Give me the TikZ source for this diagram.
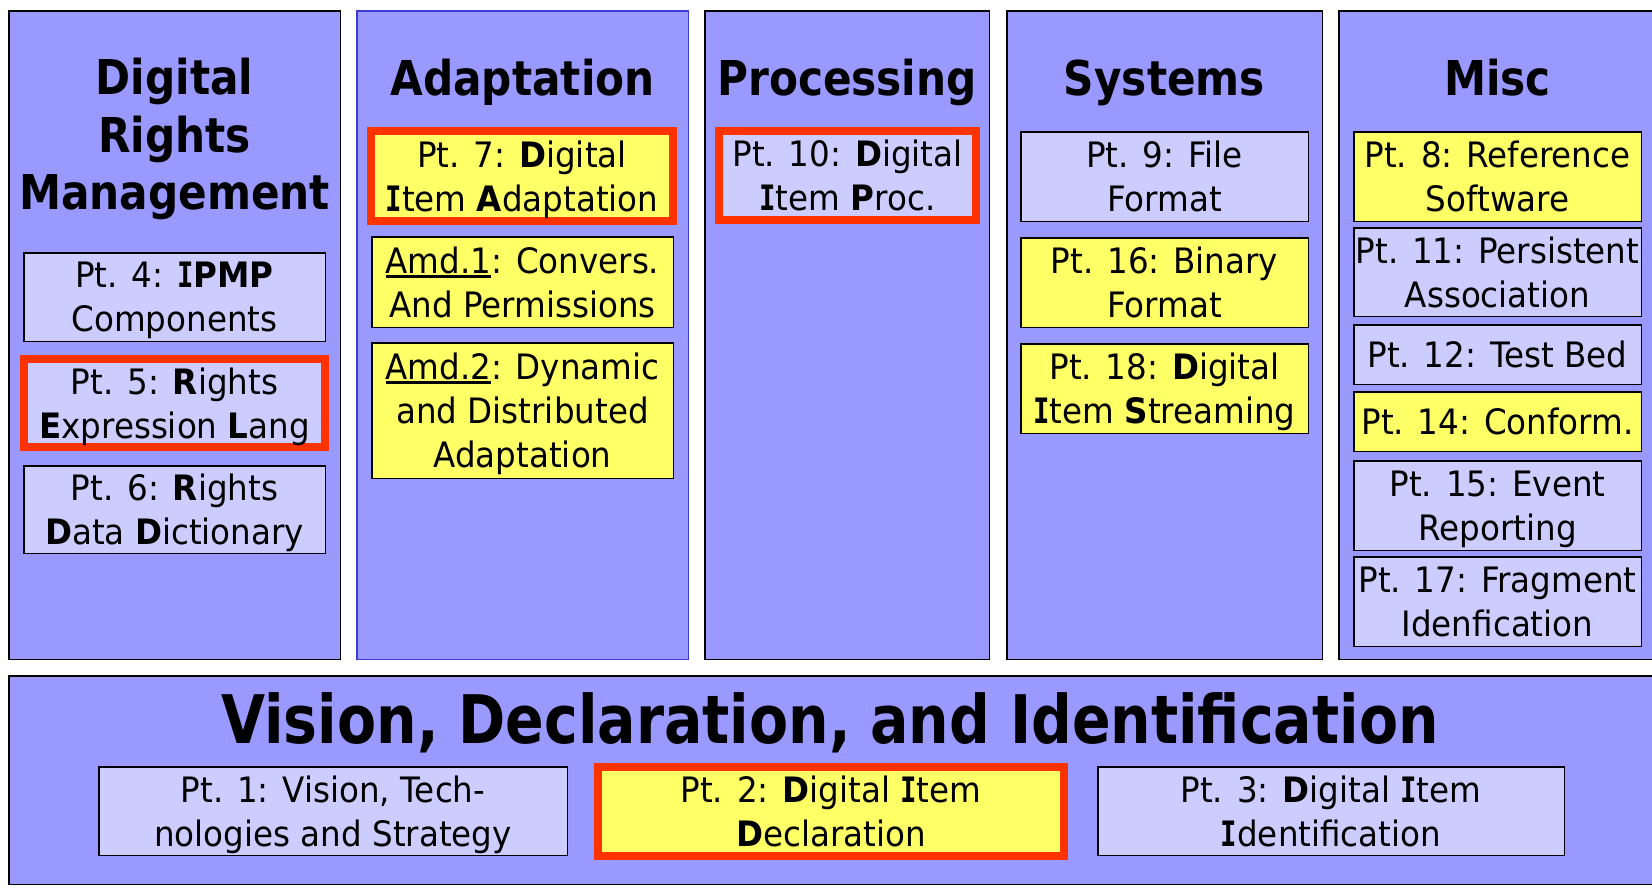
\documentclass[tikz,border=0pt]{standalone}
\usepackage{fontspec}
\setmainfont{DejaVu Sans}
\newfontfamily\partfont[FakeStretch=0.93]{DejaVu Sans}
\newfontfamily\headfont[FakeStretch=0.88]{DejaVu Sans}
\newfontfamily\basefont[FakeStretch=0.85]{DejaVu Sans}
% a capital I with slab serifs, as used for the bold initials
\newfontfamily\slabfont[FakeStretch=0.78]{DejaVu Sans Mono}
\newcommand\bI{{\slabfont\bfseries I}}

\definecolor{panel}{HTML}{9999FF}
\definecolor{lite}{HTML}{CCCCFF}
\definecolor{yel}{HTML}{FFFF66}
\definecolor{hotred}{HTML}{FF3300}
\definecolor{edgeblue}{HTML}{3C3CD2}

% thick underline used for the amendment labels
\newcommand\amdul[1]{\setbox0=\hbox{#1}\rlap{\rule[-4.5pt]{\wd0}{3pt}}\box0}

\tikzset{
  column/.style={draw=black, line width=1.5pt, fill=panel, inner sep=0pt},
  heading/.style={font={\headfont\bfseries\fontsize{48}{57.5}\selectfont}, align=center, inner sep=0pt},
  part/.style={draw=black, line width=1.5pt, align=center, inner sep=0pt, text depth=0pt,
    font={\partfont\fontsize{35}{44}\selectfont}},
  litepart/.style={part, fill=lite},
  yelpart/.style={part, fill=yel},
  hot/.style={draw=hotred, line width=8pt},
}

\begin{document}
\begin{tikzpicture}[x=1pt, y=-1pt]
\useasboundingbox (0,0) rectangle (1652,887);
\fill[white] (0,0) rectangle (1652,887);

% ---- five upper columns ----
\node[column, minimum width=331.5pt, minimum height=648.5pt] (drm)  at (174.5,335) {};
\node[column, draw=edgeblue, minimum width=331.5pt, minimum height=648.5pt] (adapt) at (522.5,335) {};
\node[column, minimum width=284.5pt, minimum height=648.5pt] (proc) at (847,335) {};
\node[column, minimum width=315.5pt, minimum height=648.5pt] (sys)  at (1164.5,335) {};
\node[column, minimum width=322.5pt, minimum height=648.5pt] (misc) at (1500,335) {};

% ---- column headings ----
\node[heading, text depth=0pt] (hdrm) at (174.5,134) {Digital\\Rights\\Management};
\node[heading, anchor=base] (hadapt) at (522.5,95) {Adaptation};
\node[heading, anchor=base] (hproc)  at (847,95) {Processing};
\node[heading, anchor=base] (hsys)   at (1164.5,95) {Systems};
\node[heading, anchor=base] (hmisc)  at (1497.5,95) {Misc};

% ---- Digital Rights Management ----
\node[litepart, minimum width=301.5pt, minimum height=88.5pt] (p4) at (174.5,297)
  {Pt. 4: \bI\textbf{PMP}\\Components};
\node[litepart, hot, minimum width=301pt, minimum height=88pt] (p5) at (174.5,403)
  {Pt. 5: \textbf{R}ights\\\textbf{E}xpression \textbf{L}ang};
\node[litepart, minimum width=301.5pt, minimum height=87.5pt] (p6) at (174.5,509.5)
  {Pt. 6: \textbf{R}ights\\\textbf{D}ata \textbf{D}ictionary};

% ---- Adaptation ----
\node[yelpart, hot, minimum width=302pt, minimum height=90pt] (p7) at (522,176)
  {Pt. 7: \textbf{D}igital\\\bI tem \textbf{A}daptation};
\node[yelpart, minimum width=301.5pt, minimum height=90.5pt] (amd1) at (522.5,282)
  {\amdul{Amd.1}: Convers.\\And Permissions};
\node[yelpart, minimum width=301.5pt, minimum height=135.5pt] (amd2) at (522.5,410.5)
  {\amdul{Amd.2}: Dynamic\\and Distributed\\Adaptation};

% ---- Processing ----
\node[litepart, hot, minimum width=257pt, minimum height=89pt] (p10) at (847.5,175.5)
  {Pt. 10: \textbf{D}igital\\\bI tem \textbf{P}roc.};

% ---- Systems ----
\node[litepart, minimum width=287.5pt, minimum height=89.5pt] (p9) at (1164.5,176.5)
  {Pt. 9: File\\Format};
\node[yelpart, minimum width=287.5pt, minimum height=89.5pt] (p16) at (1164.5,282.5)
  {Pt. 16: Binary\\Format};
\node[yelpart, minimum width=287.5pt, minimum height=89.5pt] (p18) at (1164.5,388.5)
  {Pt. 18: \textbf{D}igital\\\bI tem \textbf{S}treaming};

% ---- Misc ----
\node[yelpart, minimum width=287.5pt, minimum height=89.5pt] (p8) at (1497.5,176.5)
  {Pt. 8: Reference\\Software};
\node[litepart, minimum width=287.5pt, minimum height=88.5pt] (p11) at (1497.5,272)
  {Pt. 11: Persistent\\Association};
\node[litepart, minimum width=287.5pt, minimum height=59.5pt] (p12) at (1497.5,354.5)
  {Pt. 12: Test Bed};
\node[yelpart, minimum width=287.5pt, minimum height=59.5pt] (p14) at (1497.5,421.5)
  {Pt. 14: Conform.};
\node[litepart, minimum width=287.5pt, minimum height=89.5pt] (p15) at (1497.5,505.5)
  {Pt. 15: Event\\Reporting};
\node[litepart, minimum width=287.5pt, minimum height=89.5pt] (p17) at (1497.5,601.5)
  {Pt. 17: Fragment\\Idenfication};

% ---- lower band ----
\node[column, minimum width=1652.5pt, minimum height=208.5pt] (vdi) at (835,780) {};
\node[anchor=base, inner sep=0pt, font={\basefont\bfseries\fontsize{67}{80}\selectfont}] (hvdi) at (830,743)
  {Vision, Declaration, and Identification};
\node[litepart, minimum width=468.5pt, minimum height=88.5pt] (p1) at (333,811)
  {Pt. 1: Vision, Tech-\\nologies and Strategy};
\node[yelpart, hot, minimum width=466pt, minimum height=89pt] (p2) at (831,811.5)
  {Pt. 2: \textbf{D}igital \bI tem\\\textbf{D}eclaration};
\node[litepart, minimum width=466.5pt, minimum height=88.5pt] (p3) at (1331,811)
  {Pt. 3: \textbf{D}igital \bI tem\\\bI dentification};
\end{tikzpicture}
\end{document}
